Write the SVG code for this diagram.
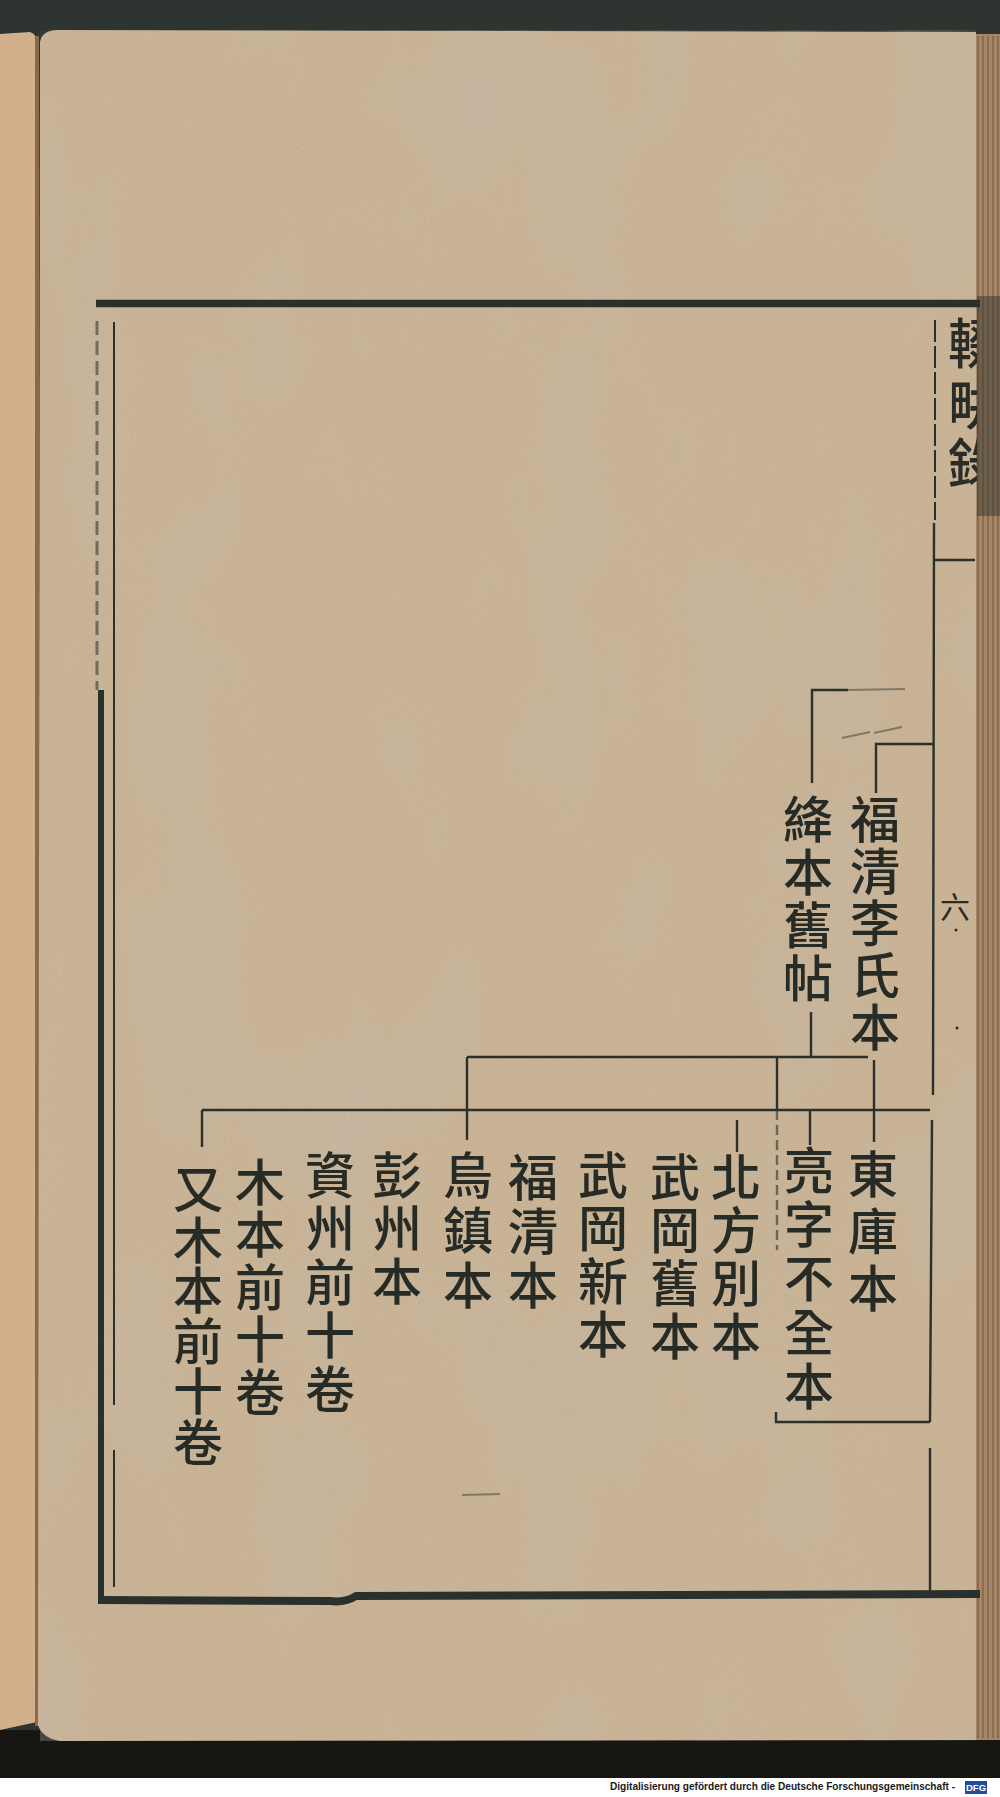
<svg xmlns="http://www.w3.org/2000/svg" width="1000" height="1797" viewBox="0 0 1000 1797">
<style>
.ink{stroke:#2b302b;fill:none;stroke-width:2.4;stroke-linecap:butt}
.faint{stroke:#2b302b;fill:none;stroke-width:2;opacity:0.45}
.frame{stroke:#2a302b;fill:none;stroke-linecap:butt}
.t{font-family:"Noto Sans CJK TC","Noto Sans CJK SC",sans-serif;font-size:50px;font-weight:500;fill:#272b25;text-anchor:middle}
.title{font-family:"Noto Sans CJK TC","Noto Sans CJK SC",sans-serif;font-size:54px;font-weight:500;fill:#2a2d27;text-anchor:middle}
</style>
<defs>
<filter id="grain" x="0" y="0" width="100%" height="100%">
<feTurbulence type="fractalNoise" baseFrequency="0.9" numOctaves="2" seed="3"/>
<feColorMatrix type="matrix" values="0 0 0 0 0.35  0 0 0 0 0.28  0 0 0 0 0.2  0 0 0 -1.2 0.75"/>
</filter>
<filter id="blot" x="0" y="0" width="100%" height="100%">
<feTurbulence type="fractalNoise" baseFrequency="0.008 0.004" numOctaves="3" seed="7"/>
<feColorMatrix type="matrix" values="0 0 0 0 0.55  0 0 0 0 0.5  0 0 0 0 0.45  0 0 0 -1.6 0.9"/>
</filter>
<clipPath id="fold"><rect x="930" y="300" width="47" height="260"/></clipPath>
</defs>

<!-- background -->
<rect x="0" y="0" width="1000" height="1797" fill="#2e3531"/>
<rect x="0" y="1730" width="1000" height="50" fill="#171613"/>
<rect x="0" y="1778" width="1000" height="19" fill="#ffffff"/>

<!-- left page strip -->
<path d="M0 34 L30 32 Q37 34 37 44 L37 1722 L0 1730 Z" fill="#d2b08c"/>
<rect x="35" y="36" width="4" height="1690" fill="#8a6a48"/>
<!-- main page -->
<path d="M40 42 Q42 30 58 30 L976 32 L976 1740 L60 1741 Q42 1738 38 1725 Z" fill="#cbb597"/>
<rect x="40" y="30" width="936" height="1711" filter="url(#blot)" opacity="0.5"/>
<rect x="40" y="30" width="936" height="1711" filter="url(#grain)" opacity="0.35"/>
<!-- page-edge stack on the right -->
<rect x="976" y="34" width="24" height="1706" fill="#a58767"/>
<g stroke="#6a5238" stroke-width="1.2" opacity="0.8">
<line x1="978" y1="36" x2="978" y2="1738"/>
<line x1="983" y1="36" x2="983" y2="1738"/>
<line x1="988" y1="36" x2="988" y2="1738"/>
<line x1="993" y1="36" x2="993" y2="1738"/>
<line x1="998" y1="36" x2="998" y2="1738"/>
</g>
<rect x="977" y="296" width="23" height="220" fill="#2b2f2a" opacity="0.45"/>

<!-- frame -->
<g id="frame">
<line class="frame" x1="96" y1="303.5" x2="980" y2="303.5" stroke-width="7.5"/>
<line class="frame" x1="97" y1="321" x2="97" y2="690" stroke-width="3" stroke-dasharray="14 6" opacity="0.55"/>
<line class="frame" x1="101" y1="690" x2="101" y2="1602" stroke-width="6"/>
<line class="frame" x1="114" y1="322" x2="114" y2="1405" stroke-width="2"/>
<line class="frame" x1="114" y1="1450" x2="114" y2="1587" stroke-width="2"/>
<path class="frame" d="M98 1600 L330 1601 Q345 1603 356 1596 L980 1594" stroke-width="8"/>
<line class="frame" x1="935" y1="320" x2="935" y2="520" stroke-width="2" stroke-dasharray="22 4"/>
<line class="frame" x1="934" y1="523" x2="933" y2="1095" stroke-width="2.4"/>
<line class="frame" x1="932" y1="1120" x2="930" y2="1422" stroke-width="2.4"/>
<line class="frame" x1="930" y1="1448" x2="930" y2="1598" stroke-width="2.4"/>
<line class="frame" x1="935" y1="560" x2="975" y2="560" stroke-width="2.6"/>
</g>

<!-- fold margin (title, page number) -->
<g id="title" clip-path="url(#fold)">
<text class="title"><tspan x="975" y="364">輟</tspan><tspan x="975" y="425">畊</tspan><tspan x="975" y="484">錄</tspan></text>
</g>
<text x="955" y="918" font-family="Noto Sans CJK TC, sans-serif" font-size="30" fill="#2a2d27" text-anchor="middle">六</text>
<circle cx="956" cy="930" r="1.5" fill="#2a2d27"/>
<circle cx="957" cy="1028" r="1.5" fill="#2a2d27"/>

<!-- connectors -->
<g id="connectors">
<polyline class="ink" points="812,783 812,690 848,690"/>
<line class="faint" x1="848" y1="690" x2="905" y2="689"/>
<path class="faint" d="M842 738 L870 732 M874 733 L902 727"/>
<polyline class="ink" points="876,793 876,744 933,744"/>
<line class="ink" x1="811" y1="1012" x2="811" y2="1057"/>
<line class="ink" x1="874" y1="1060" x2="874" y2="1142"/>
<line class="ink" x1="467" y1="1057" x2="868" y2="1057"/>
<line class="ink" x1="467" y1="1057" x2="467" y2="1140"/>
<line class="ink" x1="777" y1="1057" x2="777" y2="1110"/>
<line class="ink" x1="777" y1="1110" x2="777" y2="1250" stroke-dasharray="10 5" opacity="0.6"/>
<line class="ink" x1="202" y1="1110" x2="930" y2="1110"/>
<line class="ink" x1="202" y1="1110" x2="202" y2="1147"/>
<line class="ink" x1="810" y1="1110" x2="810" y2="1145"/>
<line class="ink" x1="737" y1="1120" x2="737" y2="1152"/>
<polyline class="ink" points="776,1412 776,1422 930,1422" stroke-width="3"/>
<line class="faint" x1="462" y1="1495" x2="500" y2="1494"/>
</g>

<!-- nodes -->
<g id="n_fuqing_li"><text class="t"><tspan x="875" y="838">福</tspan><tspan x="875" y="890">清</tspan><tspan x="875" y="942">李</tspan><tspan x="875" y="994">氏</tspan><tspan x="875" y="1046">本</tspan></text></g>
<g id="n_jiang"><text class="t"><tspan x="808" y="838">絳</tspan><tspan x="808" y="891">本</tspan><tspan x="808" y="944">舊</tspan><tspan x="808" y="997">帖</tspan></text></g>
<g id="n_dongku"><text class="t"><tspan x="873" y="1193">東</tspan><tspan x="873" y="1250">庫</tspan><tspan x="873" y="1307">本</tspan></text></g>
<g id="n_liang"><text class="t"><tspan x="809" y="1189">亮</tspan><tspan x="809" y="1243">字</tspan><tspan x="809" y="1297">不</tspan><tspan x="809" y="1351">全</tspan><tspan x="809" y="1405">本</tspan></text></g>
<g id="n_beifang"><text class="t"><tspan x="736" y="1196">北</tspan><tspan x="736" y="1249">方</tspan><tspan x="736" y="1302">別</tspan><tspan x="736" y="1355">本</tspan></text></g>
<g id="n_wugang_old"><text class="t"><tspan x="675" y="1196">武</tspan><tspan x="675" y="1249">岡</tspan><tspan x="675" y="1302">舊</tspan><tspan x="675" y="1355">本</tspan></text></g>
<g id="n_wugang_new"><text class="t"><tspan x="603" y="1194">武</tspan><tspan x="603" y="1247">岡</tspan><tspan x="603" y="1300">新</tspan><tspan x="603" y="1353">本</tspan></text></g>
<g id="n_fuqing"><text class="t"><tspan x="533" y="1196">福</tspan><tspan x="533" y="1250">清</tspan><tspan x="533" y="1304">本</tspan></text></g>
<g id="n_wuzhen"><text class="t"><tspan x="468" y="1194">烏</tspan><tspan x="468" y="1249">鎮</tspan><tspan x="468" y="1304">本</tspan></text></g>
<g id="n_pengzhou"><text class="t"><tspan x="397" y="1194">彭</tspan><tspan x="397" y="1247">州</tspan><tspan x="397" y="1300">本</tspan></text></g>
<g id="n_zizhou"><text class="t"><tspan x="330" y="1194">資</tspan><tspan x="330" y="1247">州</tspan><tspan x="330" y="1301">前</tspan><tspan x="330" y="1354">十</tspan><tspan x="330" y="1408">卷</tspan></text></g>
<g id="n_muben"><text class="t"><tspan x="260" y="1201">木</tspan><tspan x="260" y="1253">本</tspan><tspan x="260" y="1306">前</tspan><tspan x="260" y="1358">十</tspan><tspan x="260" y="1411">卷</tspan></text></g>
<g id="n_youmuben"><text class="t" font-size="48"><tspan x="198" y="1208">又</tspan><tspan x="198" y="1259">木</tspan><tspan x="198" y="1309">本</tspan><tspan x="198" y="1360">前</tspan><tspan x="198" y="1410">十</tspan><tspan x="198" y="1461">卷</tspan></text></g>

<!-- credit line -->
<text x="610" y="1790" font-family="Liberation Sans, sans-serif" font-size="10.5" font-weight="bold" fill="#1a1a1a" textLength="345" lengthAdjust="spacingAndGlyphs">Digitalisierung gefördert durch die Deutsche Forschungsgemeinschaft -</text>
<rect x="965" y="1781" width="22" height="13" fill="#1f4e9c"/>
<text x="976" y="1791" font-family="Liberation Sans, sans-serif" font-size="9.5" font-weight="bold" fill="#ffffff" text-anchor="middle">DFG</text>
</svg>
